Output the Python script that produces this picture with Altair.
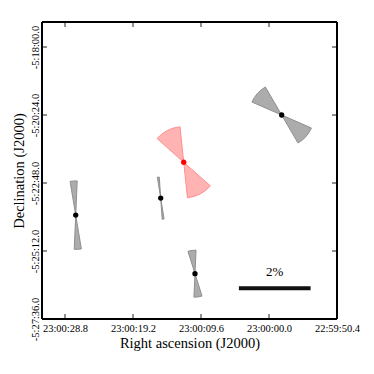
import altair as alt
import pandas as pd

# ---- data (RA in seconds offset from 23:00:00, Dec in arcsec offset from -5:00:00) ----
ra_s = [27.29, 15.29, 12.04, 10.45, -1.79]
dec_as = [-1436, -1400, -1324, -1560, -1224]
pol_pct = [1.91, 1.18, 1.99, 1.31, 1.81]
pa_deg = [3.5, 6.5, 27.2, 7.4, 48.3]
pa_err = [6.0, 2.6, 21.2, 10.0, 18.1]
group = ["grey", "grey", "red", "grey", "grey"]

x_tick_vals = [28.8, 19.2, 9.6, 0.0, -9.6]
x_tick_labels = ["23:00:28.8", "23:00:19.2", "23:00:09.6", "23:00:00.0", "22:59:50.4"]
y_tick_vals = [-1080, -1224, -1368, -1512, -1656]
y_tick_labels = ["-5:18:00.0", "-5:20:24.0", "-5:22:48.0", "-5:25:12.0", "-5:27:36.0"]

bar_ra_start = 4.25
bar_len_s = 10.12
bar_dec = -1591
bar_pct = 2
bar_label = "2%"
label_dec = -1557

x_domain = [-9.6, 32.05]
y_domain = [-1656, -1027]

W, H = 295, 297
FONT = "Liberation Serif"

# ---- tables ----
rows = []
for r, d, p, a, e, g in zip(ra_s, dec_as, pol_pct, pa_deg, pa_err, group):
    for base in (360.0, 180.0):
        rows.append(dict(ra=r, dec=d, p=p, t1=base - a - e, t2=base - a + e, grp=g))
wdf = pd.DataFrame(rows)
pdf = pd.DataFrame(dict(ra=ra_s, dec=dec_as, grp=group))
xt = pd.DataFrame(dict(v=x_tick_vals))
yt = pd.DataFrame(dict(v=y_tick_vals))
bar_df = pd.DataFrame(dict(x1=[bar_ra_start], x2=[bar_ra_start - bar_len_s], y=[bar_dec],
                           xm=[bar_ra_start - bar_len_s / 2], ym=[label_dec], txt=[bar_label]))
frame_h = pd.DataFrame(dict(x1=[x_domain[1]] * 2, x2=[x_domain[0]] * 2, y=y_domain))
frame_v = pd.DataFrame(dict(y1=[y_domain[0]] * 2, y2=[y_domain[1]] * 2, x=x_domain))


def label_expr(vals, labels):
    expr = "''"
    for v, l in zip(vals, labels):
        expr = f"abs(datum.value - ({v})) < 1e-6 ? '{l}' : (" + expr + ")"
    return expr


px_per_s = W / (x_domain[1] - x_domain[0])
bar_px = bar_len_s * px_per_s

xscale = alt.Scale(domain=x_domain, reverse=True, nice=False, zero=False)
yscale = alt.Scale(domain=y_domain, nice=False, zero=False)
tscale = alt.Scale(domain=[0, 360], range=[0, 6.283185307179586])
rscale = alt.Scale(type="linear", domain=[0, bar_pct], range=[0, bar_px / 2], zero=True)

xaxis = alt.Axis(values=x_tick_vals, labelExpr=label_expr(x_tick_vals, x_tick_labels),
                 title="Right ascension (J2000)", ticks=False, domain=False, grid=False,
                 labelFlush=False, labelOverlap=False, labelFont=FONT, labelFontSize=10.5,
                 labelColor="black", labelPadding=4, titleFont=FONT, titleFontSize=14.5,
                 titleFontWeight="normal", titleColor="black", titlePadding=3)
yaxis = alt.Axis(values=y_tick_vals, labelExpr=label_expr(y_tick_vals, y_tick_labels),
                 title="Declination (J2000)", ticks=False, domain=False, grid=False,
                 labelFlush=False, labelOverlap=False, labelFont=FONT, labelFontSize=10.5,
                 labelColor="black", labelAngle=270, labelAlign="center", labelBaseline="bottom",
                 labelPadding=2, titleFont=FONT, titleFontSize=14.5, titleFontWeight="normal",
                 titleColor="black", titlePadding=4)


def X(f):
    return alt.X(f, scale=xscale, axis=xaxis)


def Y(f):
    return alt.Y(f, scale=yscale, axis=yaxis)


grp_dom = ["grey", "red"]
wedges = alt.Chart(wdf).mark_arc(strokeWidth=1).encode(
    x=X("ra:Q"), y=Y("dec:Q"),
    theta=alt.Theta("t1:Q", scale=tscale, stack=None),
    theta2="t2:Q",
    radius=alt.Radius("p:Q", scale=rscale),
    fill=alt.Fill("grp:N", scale=alt.Scale(domain=grp_dom, range=["#acacac", "#ffb3b3"]), legend=None),
    stroke=alt.Stroke("grp:N", scale=alt.Scale(domain=grp_dom, range=["#8f8f8f", "#ff8f8f"]), legend=None),
)

points = alt.Chart(pdf).mark_point(filled=True, size=28, opacity=1).encode(
    x=X("ra:Q"), y=Y("dec:Q"),
    color=alt.Color("grp:N", scale=alt.Scale(domain=grp_dom, range=["black", "#ff0000"]), legend=None),
)

tick_style = dict(color="#222222", strokeWidth=1)
xt_bot = alt.Chart(xt).mark_rule(**tick_style).encode(x=X("v:Q"), y=alt.value(H), y2=alt.value(H - 5))
xt_top = alt.Chart(xt).mark_rule(**tick_style).encode(x=X("v:Q"), y=alt.value(0), y2=alt.value(5))
yt_left = alt.Chart(yt).mark_rule(**tick_style).encode(y=Y("v:Q"), x=alt.value(0), x2=alt.value(5))
yt_right = alt.Chart(yt).mark_rule(**tick_style).encode(y=Y("v:Q"), x=alt.value(W), x2=alt.value(W - 5))

frame_style = dict(color="black", strokeWidth=2, opacity=1)
frame_hz = alt.Chart(frame_h).mark_rule(**frame_style).encode(x=X("x1:Q"), x2="x2:Q", y=Y("y:Q"))
frame_vt = alt.Chart(frame_v).mark_rule(**frame_style).encode(y=Y("y1:Q"), y2="y2:Q", x=X("x:Q"))

bar = alt.Chart(bar_df).mark_rule(color="#111111", strokeWidth=4).encode(
    x=X("x1:Q"), x2="x2:Q", y=Y("y:Q"))
bar_txt = alt.Chart(bar_df).mark_text(font=FONT, fontSize=13, color="black", baseline="middle").encode(
    x=X("xm:Q"), y=Y("ym:Q"), text="txt:N")

chart = alt.layer(wedges, points, xt_bot, xt_top, yt_left, yt_right, frame_hz, frame_vt,
                  bar, bar_txt).properties(
    width=W, height=H,
    autosize=alt.AutoSizeParams(type="none"),
    padding={"left": 34, "top": 14, "right": 29, "bottom": 47},
).configure(background="white").configure_view(strokeWidth=0)

chart.save("out.html", embed_options={"renderer": "svg", "actions": False})
